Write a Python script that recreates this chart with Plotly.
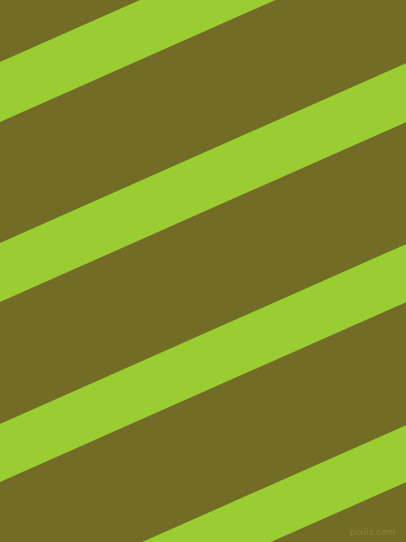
import plotly.graph_objects as go

# stripe edges where they meet the left border (pixels from top)
stripe_upper = [-119, 62, 243, 424, 605]
stripe_lower = [-59, 122, 302, 482, 662]
slope = 0.443  # rise per pixel, going right

width, height = 406, 542

fig = go.Figure()

for top, bottom in zip(stripe_upper, stripe_lower):
    xs = [0, width, width, 0, 0]
    ys = [top, top - slope * width, bottom - slope * width, bottom, top]
    fig.add_trace(
        go.Scatter(
            x=xs,
            y=ys,
            mode="lines",
            fill="toself",
            fillcolor="#9ACD32",
            line=dict(width=0, color="#9ACD32"),
            hoverinfo="skip",
            showlegend=False,
        )
    )

fig.add_annotation(
    x=397, y=532, xref="x", yref="y",
    text="pixlis.com", showarrow=False,
    xanchor="right", yanchor="middle",
    font=dict(family="DejaVu Sans", size=9, color="#8A8440"),
)

fig.update_layout(
    width=width,
    height=height,
    autosize=False,
    margin=dict(l=0, r=0, t=0, b=0),
    paper_bgcolor="#736C26",
    plot_bgcolor="#736C26",
    xaxis=dict(range=[0, width], visible=False, fixedrange=True),
    yaxis=dict(range=[height, 0], visible=False, fixedrange=True),
)

# drop the browser's default page margin so the chart fills the window
fig.write_html(
    "out.html",
    config={"displayModeBar": False},
    post_script="document.body.style.margin='0';document.body.style.overflow='hidden';",
)
